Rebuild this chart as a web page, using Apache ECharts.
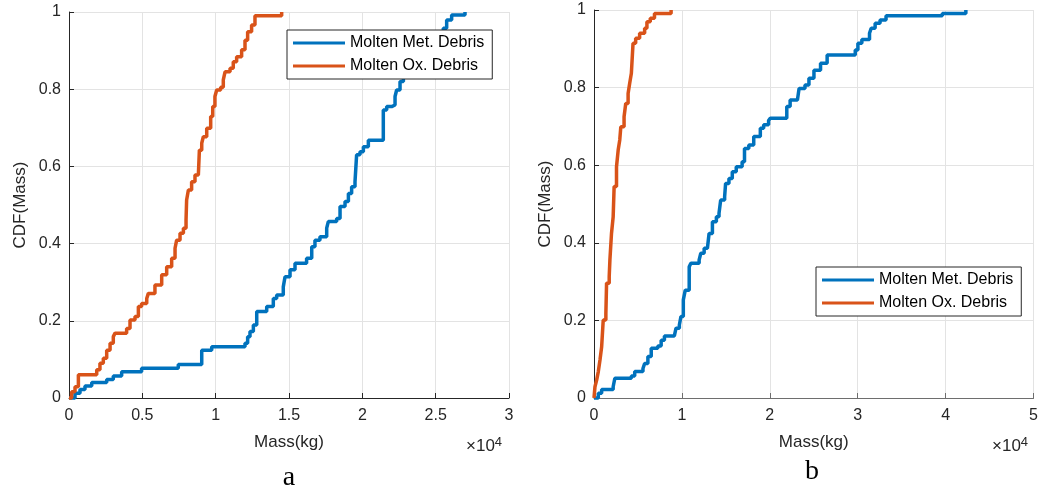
<!DOCTYPE html>
<html>
<head>
<meta charset="utf-8">
<script src="https://cdn.jsdelivr.net/npm/echarts@6/dist/echarts.min.js"></script>
<style>
html,body{margin:0;padding:0;background:#fff;}
#chart{width:1041px;height:490px;}
</style>
</head>
<body>
<div id="chart"></div>
<script>
// Mass values in units of 1e4 kg, CDF values 0..1
// Panel a
const aMetX = [0, 0.041, 0.075, 0.109, 0.155, 0.257, 0.302, 0.359, 0.495, 0.745, 0.905, 0.973, 1.2, 1.218, 1.234, 1.257, 1.28, 1.348, 1.393, 1.416, 1.461, 1.473, 1.507, 1.541, 1.62, 1.655, 1.677, 1.711, 1.757, 1.768, 1.825, 1.848, 1.882, 1.905, 1.927, 1.95, 1.961, 1.984, 2.007, 2.041, 2.143, 2.166, 2.2, 2.223, 2.234, 2.257, 2.28, 2.336, 2.37, 2.416, 2.461, 2.5, 2.552, 2.575, 2.609, 2.7];
const aMetY = [0, 0.012, 0.022, 0.031, 0.04, 0.048, 0.057, 0.068, 0.077, 0.087, 0.124, 0.133, 0.142, 0.159, 0.172, 0.189, 0.224, 0.237, 0.258, 0.267, 0.288, 0.314, 0.332, 0.349, 0.362, 0.392, 0.409, 0.418, 0.44, 0.457, 0.465, 0.496, 0.509, 0.53, 0.547, 0.56, 0.63, 0.638, 0.651, 0.668, 0.746, 0.755, 0.759, 0.781, 0.798, 0.82, 0.837, 0.858, 0.889, 0.902, 0.927, 0.945, 0.958, 0.979, 0.992, 1.0];
const aOxX = [0, 0.018, 0.041, 0.064, 0.189, 0.211, 0.234, 0.257, 0.28, 0.302, 0.314, 0.393, 0.416, 0.45, 0.473, 0.495, 0.53, 0.541, 0.586, 0.632, 0.666, 0.7, 0.723, 0.734, 0.757, 0.78, 0.798, 0.802, 0.814, 0.836, 0.859, 0.882, 0.889, 0.905, 0.916, 0.939, 0.966, 0.98, 0.995, 1.007, 1.034, 1.052, 1.064, 1.098, 1.12, 1.143, 1.177, 1.2, 1.218, 1.245, 1.268, 1.45];
const aOxY = [0, 0.016, 0.029, 0.06, 0.073, 0.09, 0.103, 0.124, 0.142, 0.159, 0.168, 0.18, 0.202, 0.211, 0.237, 0.245, 0.258, 0.271, 0.293, 0.319, 0.34, 0.362, 0.388, 0.409, 0.427, 0.44, 0.461, 0.513, 0.539, 0.56, 0.578, 0.582, 0.642, 0.66, 0.677, 0.699, 0.729, 0.755, 0.781, 0.798, 0.805, 0.824, 0.845, 0.854, 0.871, 0.884, 0.902, 0.927, 0.949, 0.966, 0.99, 1.0];
// Panel b
const bMetX = [0, 0.049, 0.087, 0.218, 0.237, 0.425, 0.463, 0.557, 0.576, 0.613, 0.651, 0.726, 0.764, 0.801, 0.914, 0.933, 0.971, 0.989, 1.016, 1.038, 1.083, 1.102, 1.196, 1.215, 1.253, 1.29, 1.309, 1.347, 1.392, 1.422, 1.441, 1.486, 1.497, 1.535, 1.573, 1.618, 1.685, 1.712, 1.761, 1.817, 1.892, 1.93, 1.986, 2.005, 2.193, 2.231, 2.314, 2.333, 2.4, 2.445, 2.502, 2.577, 2.652, 2.972, 3.002, 3.047, 3.134, 3.153, 3.198, 3.254, 3.322, 3.962, 4.23];
const bMetY = [0, 0.012, 0.022, 0.029, 0.051, 0.057, 0.068, 0.076, 0.089, 0.107, 0.128, 0.134, 0.149, 0.16, 0.162, 0.18, 0.188, 0.21, 0.253, 0.278, 0.338, 0.347, 0.356, 0.373, 0.386, 0.39, 0.424, 0.454, 0.467, 0.476, 0.51, 0.519, 0.553, 0.566, 0.583, 0.596, 0.609, 0.643, 0.652, 0.674, 0.695, 0.704, 0.715, 0.721, 0.751, 0.768, 0.772, 0.798, 0.807, 0.824, 0.845, 0.863, 0.884, 0.897, 0.914, 0.924, 0.94, 0.953, 0.966, 0.974, 0.985, 0.991, 1.0];
const bOxX = [0, 0.011, 0.03, 0.049, 0.068, 0.087, 0.105, 0.135, 0.143, 0.173, 0.181, 0.199, 0.218, 0.229, 0.256, 0.275, 0.293, 0.305, 0.342, 0.361, 0.388, 0.406, 0.425, 0.444, 0.474, 0.519, 0.576, 0.602, 0.64, 0.688, 0.877];
const bOxY = [0, 0.029, 0.046, 0.068, 0.098, 0.132, 0.201, 0.218, 0.296, 0.313, 0.356, 0.424, 0.467, 0.545, 0.596, 0.639, 0.665, 0.699, 0.725, 0.759, 0.785, 0.811, 0.837, 0.914, 0.927, 0.94, 0.953, 0.97, 0.979, 0.991, 1.0];

const seriesNames = ['Molten Met. Debris', 'Molten Ox. Debris'];
const yTicks = [0, 0.2, 0.4, 0.6, 0.8, 1];
const colors = ['#0072BD', '#D95319'];

const zip = (xs, ys) => xs.map((x, i) => [x, ys[i]]);
const TXT = '#262626';
const FONT = "'Liberation Sans', Arial, sans-serif";

function xAxisCfg(idx, max, interval, lineColor) {
  return {
    gridIndex: idx, type: 'value', min: 0, max: max, interval: interval,
    name: 'Mass(kg)', nameLocation: 'middle', nameGap: 36,
    nameTextStyle: {color: TXT, fontSize: 17, fontFamily: FONT},
    axisLine: {show: true, onZero: false, lineStyle: {color: lineColor, width: 1}},
    axisTick: {show: true, inside: true, length: 5, lineStyle: {color: lineColor}},
    axisLabel: {color: TXT, fontSize: 16, fontFamily: FONT, margin: 10},
    splitLine: {show: true, lineStyle: {color: '#e3e3e3', width: 1}}
  };
}
function yAxisCfg(idx) {
  return {
    gridIndex: idx, type: 'value', min: 0, max: 1, interval: 0.2,
    name: 'CDF(Mass)', nameLocation: 'middle', nameGap: 40, nameRotate: 90,
    nameTextStyle: {color: TXT, fontSize: 17, fontFamily: FONT},
    axisLine: {show: true, lineStyle: {color: TXT, width: 1}},
    axisTick: {show: true, inside: true, length: 5, lineStyle: {color: TXT}},
    axisLabel: {color: TXT, fontSize: 16, fontFamily: FONT, margin: 8,
      formatter: v => { const t = yTicks.find(k => Math.abs(k - v) < 1e-9); return String(t !== undefined ? t : v); }},
    splitLine: {show: true, lineStyle: {color: '#e3e3e3', width: 1}}
  };
}
function lineSeries(name, data, color, idx) {
  return {
    name: name, type: 'line', step: 'end', data: data,
    xAxisIndex: idx, yAxisIndex: idx, showSymbol: false, symbol: 'none',
    clip: false, animation: false,
    lineStyle: {color: color, width: 3.5}, itemStyle: {color: color}
  };
}
function legendCfg(left, top) {
  return {
    orient: 'vertical', left: left, top: top,
    data: seriesNames.map(n => ({name: n, icon: 'rect'})),
    itemWidth: 52, itemHeight: 3, itemGap: 7,
    padding: [5, 8, 5, 6],
    borderColor: TXT, borderWidth: 1, backgroundColor: '#fff',
    textStyle: {color: '#000', fontSize: 16, fontFamily: FONT},
    selectedMode: false
  };
}

const chart = echarts.init(document.getElementById('chart'), null, {renderer: 'canvas'});
chart.setOption({
  animation: false,
  backgroundColor: '#fff',
  grid: [
    {left: 69, top: 12, width: 440, height: 386},
    {left: 594, top: 10, width: 443, height: 388}
  ],
  xAxis: [xAxisCfg(0, 3, 0.5, TXT), xAxisCfg(1, 5, 1, '#6e6e6e')],
  yAxis: [yAxisCfg(0), yAxisCfg(1)],
  legend: [legendCfg(287, 30), legendCfg(816, 267)],
  series: [
    lineSeries(seriesNames[0], zip(aMetX, aMetY), colors[0], 0),
    lineSeries(seriesNames[1], zip(aOxX, aOxY), colors[1], 0),
    lineSeries(seriesNames[0], zip(bMetX, bMetY), colors[0], 1),
    lineSeries(seriesNames[1], zip(bOxX, bOxY), colors[1], 1)
  ],
  graphic: [
    {type: 'text', left: 466, top: 436, style: {text: '{m|×10}{s|4}', rich: {
      m: {fontSize: 17, fontFamily: FONT, fill: TXT, verticalAlign: 'bottom', lineHeight: 19},
      s: {fontSize: 13, fontFamily: FONT, fill: TXT, verticalAlign: 'top', lineHeight: 19, padding: [0, 0, 8, 0]}}}},
    {type: 'text', left: 992, top: 436, style: {text: '{m|×10}{s|4}', rich: {
      m: {fontSize: 17, fontFamily: FONT, fill: TXT, verticalAlign: 'bottom', lineHeight: 19},
      s: {fontSize: 13, fontFamily: FONT, fill: TXT, verticalAlign: 'top', lineHeight: 19, padding: [0, 0, 8, 0]}}}},
    {type: 'text', x: 289, y: 478, style: {text: 'a', fontSize: 28, fontFamily: "'Liberation Serif', 'Times New Roman', serif", fill: '#000', align: 'center', verticalAlign: 'middle'}},
    {type: 'text', x: 812, y: 472, style: {text: 'b', fontSize: 28, fontFamily: "'Liberation Serif', 'Times New Roman', serif", fill: '#000', align: 'center', verticalAlign: 'middle'}}
  ]
});
</script>
</body>
</html>
